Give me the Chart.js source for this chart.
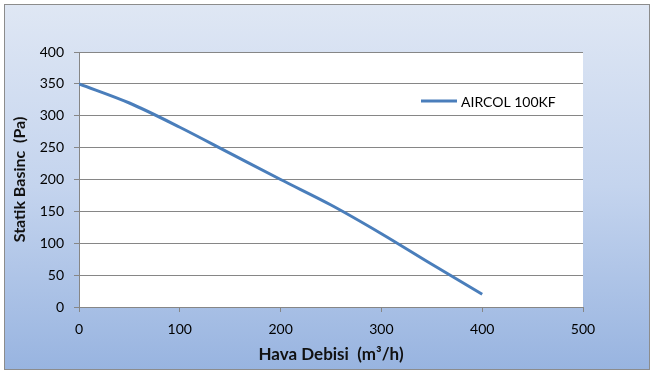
<!DOCTYPE html>
<html>
<head>
<meta charset="utf-8">
<script src="https://cdn.jsdelivr.net/npm/chart.js@4"></script>
<style>
html,body{margin:0;padding:0;background:#fff;}
#wrap{width:655px;height:377px;position:relative;}
</style>
</head>
<body>
<div id="wrap"><canvas id="c" width="655" height="377"></canvas></div>
<script>
const flowValues = [0, 50, 100, 150, 200, 250, 300, 350, 400];
const pressureValues = [350, 320, 282, 241, 200, 160, 115, 67, 20];
const seriesName = 'AIRCOL 100KF';
const xTitle = 'Hava Debisi  (m³/h)';
const yTitle = 'Statik Basinc  (Pa)';

const FONT = 'Lato, "Open Sans", sans-serif';

const bgPlugin = {
  id: 'bg',
  beforeDraw(chart) {
    const ctx = chart.ctx;
    ctx.save();
    ctx.fillStyle = '#ffffff';
    ctx.fillRect(0, 0, chart.width, chart.height);
    const g = ctx.createLinearGradient(0, 4, 0, 370);
    g.addColorStop(0, '#dfe7f4');
    g.addColorStop(0.5, '#c4d4ee');
    g.addColorStop(1, '#98b4e0');
    ctx.fillStyle = g;
    ctx.fillRect(4.5, 4.5, 645, 365);
    ctx.strokeStyle = '#8c8c8c';
    ctx.lineWidth = 1;
    ctx.strokeRect(4.5, 4.5, 645, 365);
    const a = chart.chartArea;
    ctx.fillStyle = '#ffffff';
    ctx.fillRect(a.left, a.top, a.right - a.left, a.bottom - a.top);
    ctx.restore();
  }
};

const legendPlugin = {
  id: 'innerLegend',
  afterDraw(chart) {
    const ctx = chart.ctx;
    const a = chart.chartArea;
    const ds = chart.data.datasets[0];
    const y = a.top + 49;
    const x0 = a.left + 342;
    ctx.save();
    ctx.strokeStyle = ds.borderColor;
    ctx.lineWidth = 3;
    ctx.beginPath();
    ctx.moveTo(x0, y);
    ctx.lineTo(x0 + 36, y);
    ctx.stroke();
    ctx.fillStyle = '#000';
    ctx.font = '14px ' + FONT;
    ctx.textBaseline = 'middle';
    ctx.textAlign = 'left';
    ctx.fillText(ds.label, x0 + 40, y + 1);
    ctx.restore();
  }
};

new Chart(document.getElementById('c'), {
  type: 'line',
  data: {
    datasets: [{
      label: seriesName,
      data: flowValues.map((x, i) => ({x: x, y: pressureValues[i]})),
      borderColor: '#4a7ebb',
      borderWidth: 3,
      pointRadius: 0,
      tension: 0.4,
      cubicInterpolationMode: 'monotone',
      fill: false
    }]
  },
  options: {
    responsive: false,
    animation: false,
    layout: {padding: {left: 0, top: 52, right: 72, bottom: 0}},
    plugins: {legend: {display: false}, tooltip: {enabled: false}},
    scales: {
      x: {
        type: 'linear', min: 0, max: 500,
        ticks: {stepSize: 100, color: '#000', font: {family: FONT, size: 14}, padding: 9, maxRotation: 0},
        grid: {drawOnChartArea: false, drawTicks: true, tickLength: 5, color: '#868686'},
        border: {color: '#868686'},
        title: {display: true, text: xTitle, color: '#111', font: {family: FONT, size: 17, weight: 'bold'}, padding: {top: 4, bottom: 12}},
        afterFit(s) { s.height = 70; }
      },
      y: {
        min: 0, max: 400,
        ticks: {stepSize: 50, color: '#000', font: {family: FONT, size: 14}, padding: 10},
        grid: {color: '#868686', tickLength: 5, drawTicks: true},
        border: {color: '#868686'},
        title: {display: true, text: yTitle, color: '#111', font: {family: FONT, size: 16, weight: 'bold'}, padding: {top: 10, bottom: 4}},
        afterFit(s) { s.width = 79; }
      }
    }
  },
  plugins: [bgPlugin, legendPlugin]
});
</script>
</body>
</html>
